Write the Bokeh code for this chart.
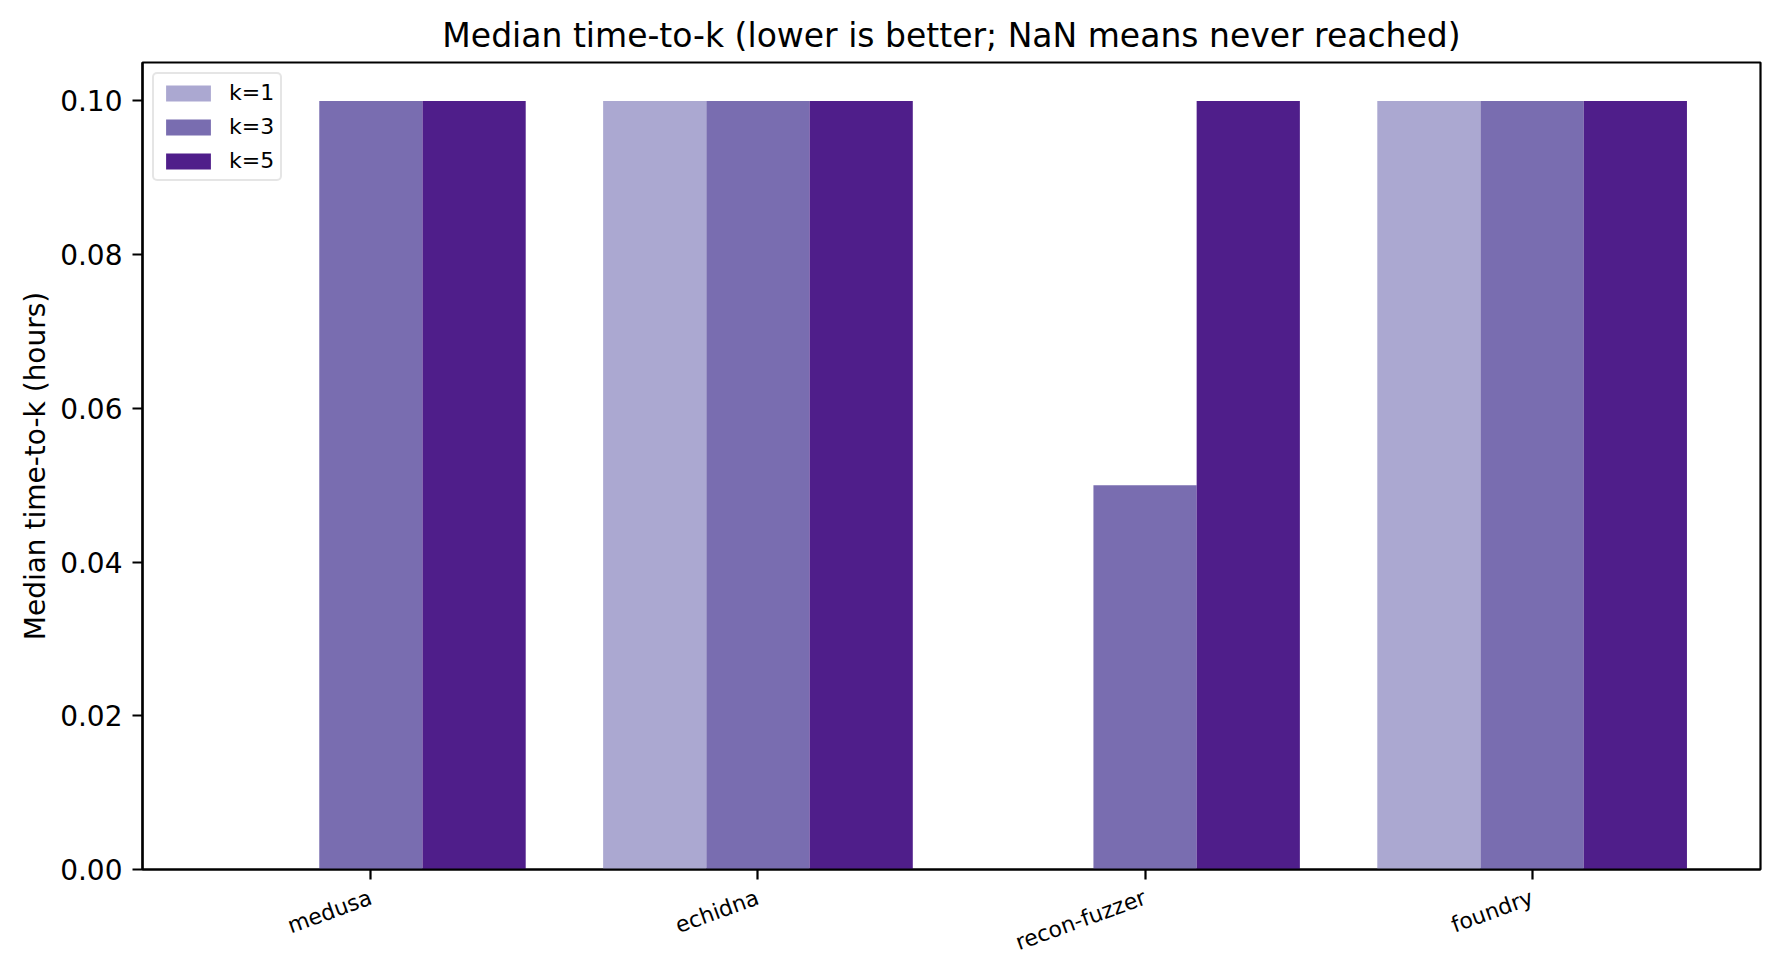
import math
from bokeh.plotting import figure
from bokeh.models import ColumnDataSource, Range1d, FixedTicker, NumeralTickFormatter, Legend, LegendItem
from bokeh.embed import file_html
from bokeh.resources import INLINE

nan = float("nan")
tools = ["medusa", "echidna", "recon-fuzzer", "foundry"]
series_names = ["k=1", "k=3", "k=5"]
k1_hours = [nan, 0.10, nan, 0.10]
k3_hours = [0.10, 0.10, 0.05, 0.10]
k5_hours = [0.10, 0.10, 0.10, 0.10]
y_ticks = [0.00, 0.02, 0.04, 0.06, 0.08, 0.10]
colors = ["#aba8d1", "#796db0", "#4f1e8a"]

FONT = "DejaVu Sans"
bar_w = 0.8 / 3

p = figure(frame_width=1618, frame_height=807,
           x_range=Range1d(-0.59, 3.59), y_range=Range1d(0, 0.105),
           output_backend="svg", toolbar_location=None,
           title="Median time-to-k (lower is better; NaN means never reached)")
p.min_border_left = 142
p.min_border_right = 20
p.min_border_top = 62
p.min_border_bottom = 108
p.background_fill_color = "white"
p.border_fill_color = "white"
p.outline_line_color = "black"
p.outline_line_width = 2.2
p.xgrid.visible = False
p.ygrid.visible = False

p.title.text_font = FONT
p.title.text_font_size = "33px"
p.title.text_font_style = "normal"
p.title.align = "center"
p.title.text_color = "black"
p.title.standoff = 15

items = []
for i, (name, vals, col) in enumerate(zip(series_names, [k1_hours, k3_hours, k5_hours], colors)):
    xs = [j + (i - 1) * bar_w for j, v in enumerate(vals) if not math.isnan(v)]
    ys = [v for v in vals if not math.isnan(v)]
    src = ColumnDataSource(dict(x=xs, top=ys))
    r = p.vbar(x="x", top="top", bottom=0, width=bar_w, source=src,
               fill_color=col, line_color=None)
    items.append(LegendItem(label=name, renderers=[r]))

legend = Legend(items=items, location="top_left")
legend.label_text_font = FONT
legend.label_text_font_size = "22px"
legend.label_text_color = "black"
legend.glyph_width = 56
legend.glyph_height = 20
legend.label_standoff = 13
legend.spacing = 9
legend.padding = 6
legend.margin = 10
legend.border_line_color = "#cccccc"
legend.border_line_width = 2
legend.background_fill_alpha = 0.8
if "border_radius" in legend.properties():
    legend.border_radius = 5
p.add_layout(legend)

xa = p.xaxis[0]
xa.ticker = FixedTicker(ticks=list(range(len(tools))))
xa.major_label_overrides = {i: t for i, t in enumerate(tools)}
xa.major_label_orientation = math.radians(20)
xa.major_label_text_font = FONT
xa.major_label_text_font_size = "22px"
xa.major_label_standoff = 17
xa.minor_tick_line_color = None

ya = p.yaxis[0]
ya.ticker = FixedTicker(ticks=y_ticks)
ya.formatter = NumeralTickFormatter(format="0.00")
ya.major_label_text_font = FONT
ya.major_label_text_font_size = "28px"
ya.major_label_standoff = 10
ya.minor_tick_line_color = None
ya.axis_label = "Median time-to-k (hours)"
ya.axis_label_text_font = FONT
ya.axis_label_text_font_size = "28px"
ya.axis_label_text_font_style = "normal"
ya.axis_label_text_color = "black"
ya.axis_label_standoff = 5

for ax in (xa, ya):
    ax.axis_line_width = 2.2
    ax.axis_line_color = "black"
    ax.major_tick_line_width = 2.2
    ax.major_tick_line_color = "black"
    ax.major_tick_out = 10
    ax.major_tick_in = 0
    ax.major_label_text_color = "black"

open("out.html", "w").write(file_html(p, INLINE))
